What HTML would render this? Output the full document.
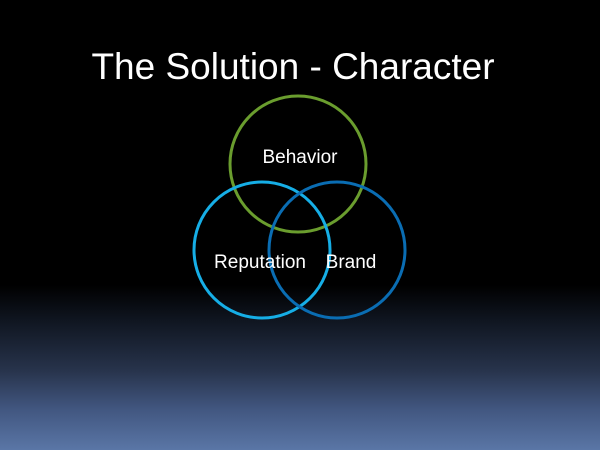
<!DOCTYPE html>
<html><head><meta charset="utf-8"><style>
html,body{margin:0;padding:0}
body{width:600px;height:450px;overflow:hidden;background:linear-gradient(to bottom,#000 0px,#000 285px,#0f1520 320px,#27334b 370px,#425781 410px,#5a76a6 450px);font-family:"Liberation Sans",sans-serif}
</style></head><body>
<svg width="600" height="450" style="position:absolute;left:0;top:0">
<text x="293" y="79" fill="#fff" font-size="37" text-anchor="middle" font-family="Liberation Sans, sans-serif">The Solution - Character</text>
<circle cx="298" cy="164" r="68" fill="none" stroke="#6a9d2e" stroke-width="3"/>
<circle cx="262" cy="250" r="68" fill="none" stroke="#16aee6" stroke-width="3"/>
<circle cx="337" cy="250" r="68" fill="none" stroke="#0a6db3" stroke-width="3"/>
<text x="300" y="163" fill="#fff" font-size="19" text-anchor="middle" font-family="Liberation Sans, sans-serif">Behavior</text>
<text x="260" y="268" fill="#fff" font-size="19" text-anchor="middle" font-family="Liberation Sans, sans-serif">Reputation</text>
<text x="351" y="268" fill="#fff" font-size="19" text-anchor="middle" font-family="Liberation Sans, sans-serif">Brand</text>
</svg>
</body></html>
